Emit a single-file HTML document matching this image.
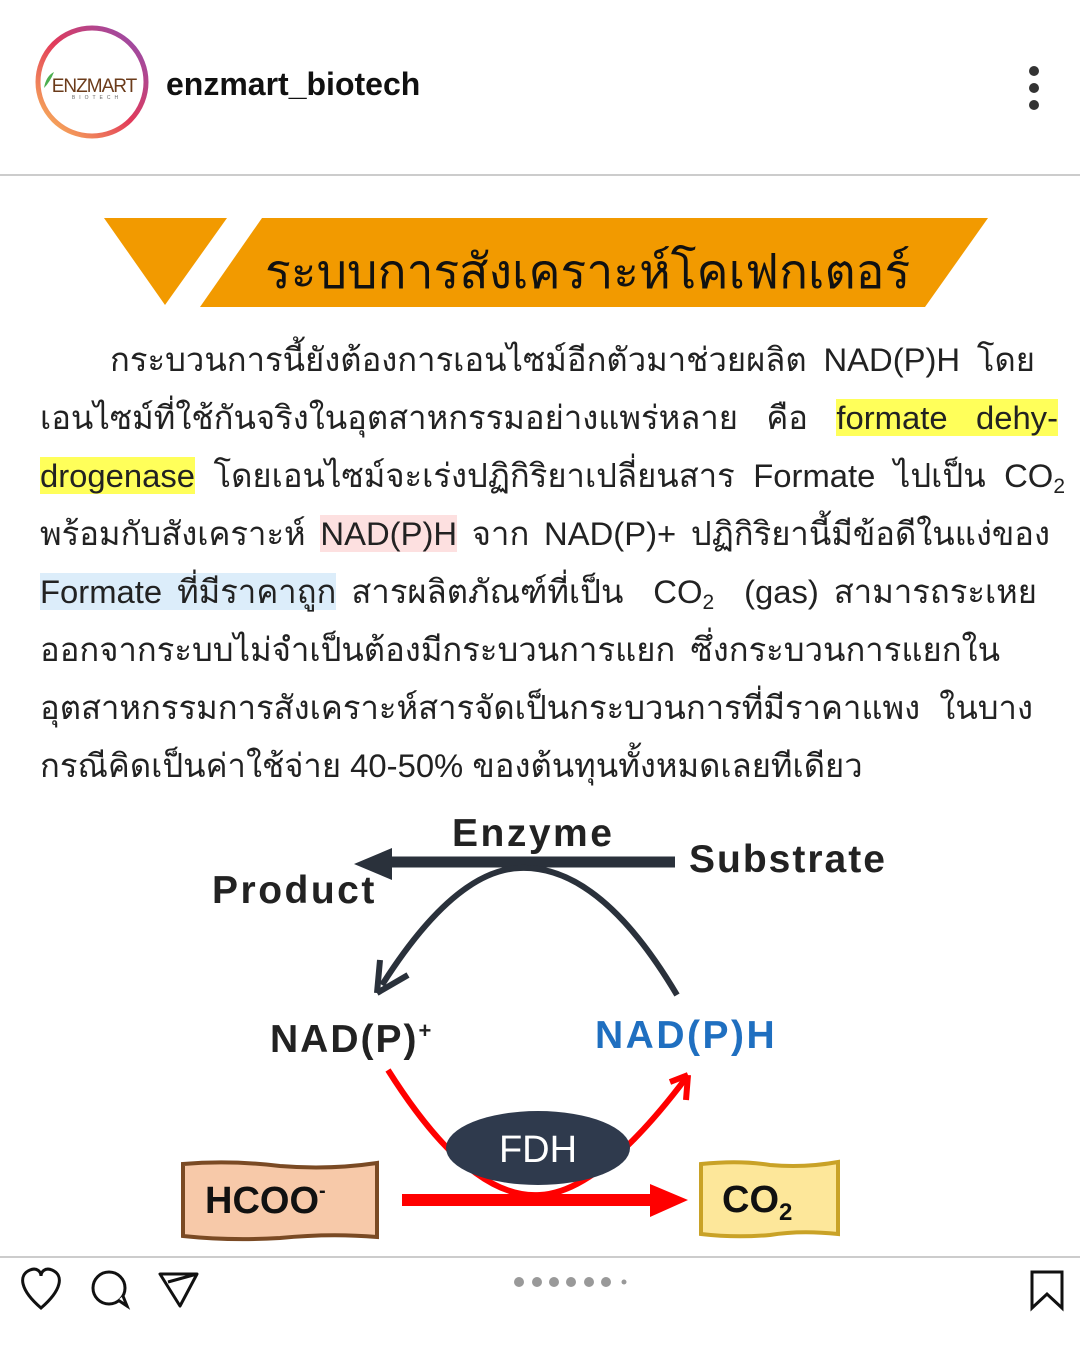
<!DOCTYPE html>
<html><head><meta charset="utf-8">
<style>
body{margin:0;width:1080px;height:1350px;background:#fff;position:relative;overflow:hidden;font-family:"Liberation Sans","DejaVu Sans","Noto Sans CJK SC",sans-serif;}
.ln{position:absolute;font-size:32.8px;color:#222;white-space:nowrap;line-height:44px;text-align:justify;text-align-last:justify;}
.y{background:#ffff5a}.p{background:#fde0e0}.b{background:#dcedfa}
sub{font-size:21px;vertical-align:-6px;line-height:0}
</style></head><body>
<svg style="position:absolute;left:0;top:0" width="1080" height="1350">
<defs><linearGradient id="g" x1="0" y1="1" x2="1" y2="0"><stop offset="0" stop-color="#fbc45a"/><stop offset="0.5" stop-color="#e23a5a"/><stop offset="1" stop-color="#8a4fb8"/></linearGradient></defs>
<circle cx="92" cy="82" r="54" fill="#fff" stroke="url(#g)" stroke-width="5"/>
<text x="94" y="92" text-anchor="middle" font-family="Liberation Sans" font-size="19" fill="#6b3b1a" letter-spacing="-1">ENZMART</text>
<text x="97" y="99" text-anchor="middle" font-family="Liberation Sans" font-size="5" fill="#666" letter-spacing="4">BIOTECH</text>
<path d="M44,88 Q46,76 54,72 Q50,82 44,88Z" fill="#4caf50"/>
<circle cx="1034" cy="71" r="5" fill="#333"/><circle cx="1034" cy="88" r="5" fill="#333"/><circle cx="1034" cy="105" r="5" fill="#333"/>
<rect x="0" y="174" width="1080" height="2" fill="#ccc"/>
<polygon points="104,218 227,218 165,305" fill="#f29a00"/>
<polygon points="262,218 988,218 925,307 200,307" fill="#f29a00"/>
<path d="M675,862 L385,862" stroke="#2a313b" stroke-width="11"/>
<polygon points="354,864 392,848 392,880" fill="#2a313b"/>
<path d="M382,985 Q455,870 520,868 Q600,865 677,995" fill="none" stroke="#2a313b" stroke-width="6"/>
<path d="M377,993 L380,960 M377,993 L408,975" stroke="#2a313b" stroke-width="6" fill="none"/>
<path d="M388,1070 Q470,1200 540,1195 Q600,1192 686,1078" fill="none" stroke="#f00" stroke-width="6"/>
<path d="M688,1075 L670,1082 M688,1075 L686,1100" stroke="#f00" stroke-width="6"/>
<rect x="402" y="1194" width="250" height="12" fill="#f00"/>
<polygon points="688,1200 650,1184 650,1217" fill="#f00"/>
<ellipse cx="538" cy="1148" rx="92" ry="37" fill="#2f3a4d"/>
<text x="538" y="1162" text-anchor="middle" font-family="Liberation Sans" font-size="38" fill="#fff">FDH</text>
<path d="M183,1164 Q230,1160 280,1166 Q330,1170 377,1163 L377,1237 Q330,1233 280,1238 Q230,1241 183,1236 Z" fill="#f7c9a9" stroke="#7a4a24" stroke-width="4"/>
<text x="205" y="1213" font-family="Liberation Sans" font-weight="bold" font-size="38" fill="#111">HCOO<tspan font-size="20" dy="-16">-</tspan></text>
<path d="M701,1164 Q740,1160 770,1165 Q805,1168 838,1162 L838,1234 Q800,1230 770,1235 Q735,1238 701,1234 Z" fill="#fde79a" stroke="#c9a227" stroke-width="4"/>
<text x="722" y="1212" font-family="Liberation Sans" font-weight="bold" font-size="38" fill="#111">CO<tspan font-size="24" dy="8">2</tspan></text>
<g font-family="Liberation Sans" font-weight="bold" fill="#222" font-size="39">
<text x="452" y="846" letter-spacing="2.5">Enzyme</text>
<text x="689" y="872" letter-spacing="2">Substrate</text>
<text x="212" y="903" letter-spacing="2.5">Product</text>
<text x="270" y="1052" letter-spacing="2">NAD(P)<tspan font-size="22" dy="-14">+</tspan></text>
<text x="595" y="1048" fill="#1f6fc0" letter-spacing="2.5">NAD(P)H</text>
</g>
<rect x="0" y="1256" width="1080" height="2" fill="#ccc"/>
<path d="M41,1308 C20,1290 18,1275 30,1270 C37,1267 41,1272 41,1276 C41,1272 45,1267 52,1270 C64,1275 62,1290 41,1308Z" fill="none" stroke="#111" stroke-width="3"/>
<circle cx="109" cy="1288" r="16" fill="none" stroke="#111" stroke-width="3"/><path d="M118,1300 L127,1306 L123,1296" fill="#fff" stroke="#111" stroke-width="3"/>
<path d="M160,1274 L197,1274 L180,1306 Z M168,1282 L197,1274" fill="none" stroke="#111" stroke-width="3" stroke-linejoin="round"/>
<g fill="#999"><circle cx="519" cy="1282" r="5"/><circle cx="537" cy="1282" r="5"/><circle cx="554" cy="1282" r="5"/><circle cx="571" cy="1282" r="5"/><circle cx="589" cy="1282" r="5"/><circle cx="606" cy="1282" r="5"/><circle cx="624" cy="1282" r="2.5"/></g>
<path d="M1032,1272 L1062,1272 L1062,1308 L1047,1294 L1032,1308 Z" fill="none" stroke="#111" stroke-width="3"/>
</svg>
<div style="position:absolute;left:166px;top:66px;font-size:32px;font-weight:bold;color:#111">enzmart_biotech</div>
<div style="position:absolute;left:265px;top:234px;width:653px;font-size:48px;color:#111;white-space:nowrap;text-align:justify;text-align-last:justify">ระบบการสังเคราะห์โคเฟกเตอร์</div>
<div class="ln" style="left:110px;top:338px;width:925px">กระบวนการนี้ยังต้องการเอนไซม์อีกตัวมาช่วยผลิต NAD(P)H โดย</div>
<div class="ln" style="left:40px;top:396px;width:1018px">เอนไซม์ที่ใช้กันจริงในอุตสาหกรรมอย่างแพร่หลาย คือ <span class="y">formate dehy-</span></div>
<div class="ln" style="left:40px;top:454px;width:1025px"><span class="y">drogenase</span> โดยเอนไซม์จะเร่งปฏิกิริยาเปลี่ยนสาร Formate ไปเป็น CO<sub>2</sub></div>
<div class="ln" style="left:40px;top:512px;width:1010px">พร้อมกับสังเคราะห์ <span class="p">NAD(P)H</span> จาก NAD(P)+ ปฏิกิริยานี้มีข้อดีในแง่ของ</div>
<div class="ln" style="left:40px;top:570px;width:997px"><span class="b">Formate ที่มีราคาถูก</span> สารผลิตภัณฑ์ที่เป็น &nbsp;CO<sub>2</sub> &nbsp;(gas) สามารถระเหย</div>
<div class="ln" style="left:40px;top:628px;width:960px">ออกจากระบบไม่จำเป็นต้องมีกระบวนการแยก ซึ่งกระบวนการแยกใน</div>
<div class="ln" style="left:40px;top:686px;width:993px">อุตสาหกรรมการสังเคราะห์สารจัดเป็นกระบวนการที่มีราคาแพง ในบาง</div>
<div class="ln" style="left:40px;top:744px;text-align:left;text-align-last:left">กรณีคิดเป็นค่าใช้จ่าย 40-50% ของต้นทุนทั้งหมดเลยทีเดียว</div>
</body></html>
